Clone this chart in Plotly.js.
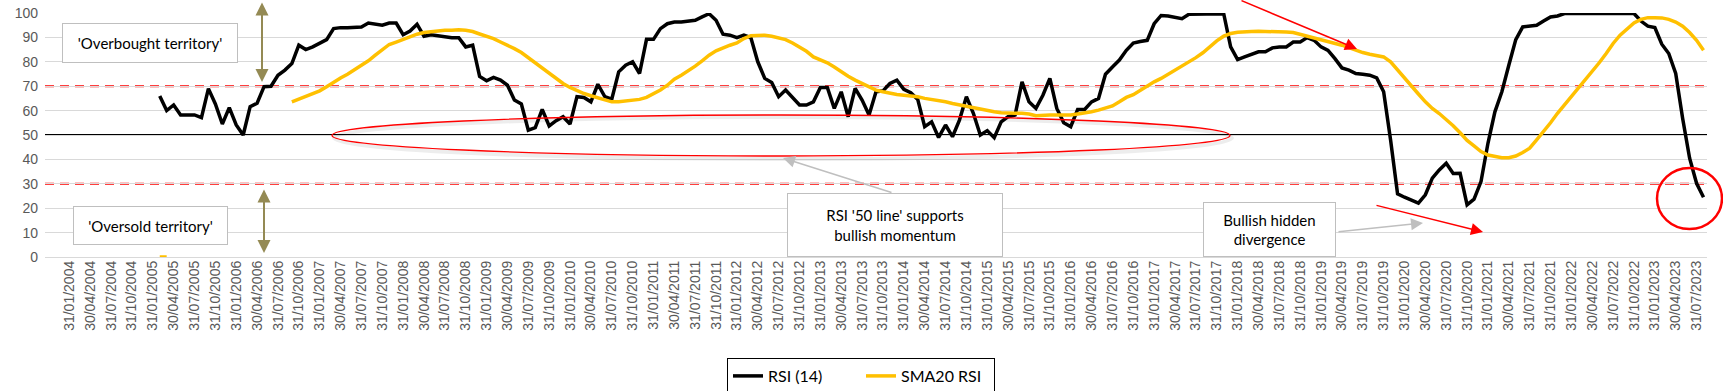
<!DOCTYPE html>
<html>
<head>
<meta charset="utf-8">
<script src="https://cdn.plot.ly/plotly-3.0.1.min.js"></script>
<style>
html,body{margin:0;padding:0;background:#fff;}
#chart{width:1723px;height:391px;}
</style>
</head>
<body>
<div id="chart"></div>
<script>
// ---------- DATA ----------
// monthly month-end categories, Oct 2003 .. Aug 2023
const firstYear = 2003, firstMonth = 10, monthCount = 239;
function buildMonths(y0, m0, n) {
  const out = [];
  for (let k = 0; k < n; k++) {
    const y = y0 + Math.floor((m0 - 1 + k) / 12);
    const m = (m0 - 1 + k) % 12 + 1;
    const d = new Date(Date.UTC(y, m, 0)).getUTCDate();
    out.push(String(d).padStart(2, '0') + '/' + String(m).padStart(2, '0') + '/' + y);
  }
  return out;
}
const months = buildMonths(firstYear, firstMonth, monthCount);

const tickLabels = [
  "31/01/2004","30/04/2004","31/07/2004","31/10/2004",
  "31/01/2005","30/04/2005","31/07/2005","31/10/2005",
  "31/01/2006","30/04/2006","31/07/2006","31/10/2006",
  "31/01/2007","30/04/2007","31/07/2007","31/10/2007",
  "31/01/2008","30/04/2008","31/07/2008","31/10/2008",
  "31/01/2009","30/04/2009","31/07/2009","31/10/2009",
  "31/01/2010","30/04/2010","31/07/2010","31/10/2010",
  "31/01/2011","30/04/2011","31/07/2011","31/10/2011",
  "31/01/2012","30/04/2012","31/07/2012","31/10/2012",
  "31/01/2013","30/04/2013","31/07/2013","31/10/2013",
  "31/01/2014","30/04/2014","31/07/2014","31/10/2014",
  "31/01/2015","30/04/2015","31/07/2015","31/10/2015",
  "31/01/2016","30/04/2016","31/07/2016","31/10/2016",
  "31/01/2017","30/04/2017","31/07/2017","31/10/2017",
  "31/01/2018","30/04/2018","31/07/2018","31/10/2018",
  "31/01/2019","30/04/2019","31/07/2019","31/10/2019",
  "31/01/2020","30/04/2020","31/07/2020","31/10/2020",
  "31/01/2021","30/04/2021","31/07/2021","31/10/2021",
  "31/01/2022","30/04/2022","31/07/2022","31/10/2022",
  "31/01/2023","30/04/2023","31/07/2023"
];

// RSI (14), from 28/02/2005
const rsiStart = "28/02/2005";
const rsiValues = [
  66, 60, 62.3, 58.2, 58.2, 58.2, 57.1, 69, 62.7, 54.5,
  61.2, 54.1, 50, 61.6, 63, 69.8, 70, 74.5, 76.6, 79.3,
  86.8, 85, 86.1, 87.5, 89.1, 93.6, 94, 94, 94.3, 94.3,
  95.9, 95.6, 95, 95.9, 95.9, 91.1, 92.6, 95.4, 90.5, 91.1,
  90.7, 90.2, 89.9, 89.9, 86.1, 86.8, 74, 72.2, 73.6, 72.5,
  70.4, 64.3, 62.7, 52, 53, 60.5, 53.7, 55.9, 57.5, 54.5,
  65.7, 65.4, 63.6, 70.8, 65.7, 64.7, 75.9, 78.6, 80, 75.2,
  89.2, 89.2, 93.6, 95.6, 96.3, 96.3, 96.6, 97, 98.4, 99.7,
  97, 91.3, 90.9, 89.9, 90.9, 89.9, 80, 73.2, 71.5, 65.7,
  68.4, 65.4, 62.3, 62.3, 63.6, 69.5, 69.5, 60.9, 67.7, 57.5,
  69.1, 64.3, 58.2, 67.7, 68.1, 71.1, 72.5, 68.7, 67.3, 64.6,
  53.4, 55.4, 49, 54.1, 49.3, 56.1, 65.7, 58.9, 50, 51.8,
  48.9, 55.4, 57.5, 58.2, 71.8, 63.6, 60.9, 66.3, 73.2, 60.9,
  55, 53.4, 60.5, 60.5, 63.6, 65, 74.9, 77.9, 80.7, 84.7,
  87.7, 88.3, 88.8, 95.6, 99, 98.8, 98.1, 97.7, 99.5, 99.5,
  99.5, 99.5, 99.5, 99.7, 86.1, 80.9, 82, 83.1, 84.1, 84.1,
  85.7, 86.1, 86.1, 88.1, 88.1, 89.9, 88.8, 86.1, 84.7, 81.3,
  77.5, 76.6, 75.2, 74.9, 74.5, 73.4, 67.7, 48, 25.9, 24.5,
  23.4, 22.1, 25.5, 32.3, 35.7, 38.4, 34.2, 34.3, 21.4, 23.7,
  30.9, 46.6, 59.5, 67.7, 78.6, 89.1, 94.3, 94.6, 95, 96.7,
  98.4, 98.8, 99.8, 99.8, 99.8, 99.8, 99.8, 99.8, 99.8, 99.8,
  99.8, 99.8, 99.8, 96.7, 94.6, 94, 87.2, 83.4, 75.2, 56.8,
  40.5, 30.2, 24.5
];

// SMA20 RSI: two stray zero points, then values from 30/09/2006
const smaZeroStart = "28/02/2005";
const smaZeroValues = [0, 0];
const smaStart = "30/09/2006";
const smaValues = [
  63.6, 64.7, 65.7, 66.8, 68.1, 69.8, 71.8, 73.4, 74.9, 76.6,
  78.6, 80.4, 82.7, 85, 87.1, 88.1, 89.2, 90.2, 91.3, 92,
  92.4, 92.6, 92.9, 92.9, 93.1, 92.9, 92.4, 91.4, 90.5, 89.5,
  88.1, 86.8, 85.4, 83.8, 81.7, 79.6, 77.5, 75.2, 73.2, 71.1,
  69.5, 68.1, 67, 66.1, 65.3, 64.6, 63.6, 63.6, 63.9, 64,
  64.6, 65.4, 66.8, 68.4, 70.4, 72.9, 74.5, 76.3, 78.2, 80.4,
  82.7, 84.5, 85.8, 86.8, 87.7, 89.5, 90.7, 90.9, 90.9, 90.5,
  89.9, 89.1, 87.7, 86, 84.3, 82, 80.7, 79.6, 77.9, 75.9,
  74.1, 72.5, 71.1, 69.5, 68.4, 67.7, 67, 66.6, 66.3, 66.1,
  65.7, 65, 64.6, 64.3, 63.6, 62.9, 62.3, 61.9, 61.3, 60.5,
  60.2, 59.5, 59.1, 58.9, 58.9, 58.9, 58.6, 57.9, 58.2, 58.2,
  58.2, 58.2, 58.2, 58.6, 58.9, 59.5, 60.2, 60.9, 61.9, 63.6,
  65.4, 66.5, 68.3, 70, 71.8, 73.2, 74.9, 76.6, 78.2, 79.6,
  81.7, 83.7, 86.1, 88.6, 90.5, 91.6, 92.1, 92.4, 92.4, 92.5,
  92.5, 92.5, 92.4, 92.2, 92, 91.3, 90.6, 89.8, 89.1, 88.3,
  87.5, 86.8, 85.8, 84.7, 83.8, 83.1, 82.7, 82, 80, 76.6,
  73.2, 69.8, 66.8, 63.6, 60.9, 58.8, 56.5, 53.8, 50.9, 47.8,
  45.5, 43.2, 41.8, 41.1, 40.7, 40.7, 41.4, 42.8, 44.6, 48,
  51.4, 55, 58.9, 62.3, 65.7, 69.1, 72.5, 75.9, 79.6, 83.4,
  87.5, 90.9, 93.6, 95.9, 97.4, 98.1, 98.1, 98, 97.4, 96.3,
  94.6, 92, 88.8, 84.7
];

const seriesNames = ["RSI (14)", "SMA20 RSI"];
const levelLines = { overbought: 70, middle: 50, oversold: 30 };

// ---------- build full-length series ----------
function place(target, start, vals) {
  const s = months.indexOf(start);
  vals.forEach((v, k) => { target[s + k] = v; });
}
const rsi = months.map(() => null);
place(rsi, rsiStart, rsiValues);
const sma = months.map(() => null);
place(sma, smaZeroStart, smaZeroValues);
place(sma, smaStart, smaValues);

// ---------- geometry helpers (plot area in px) ----------
const W = 1723, H = 391;
const PL = 45, PR = 1707, PT = 13, PB = 257;
const fx = px => (px - PL) / (PR - PL);
const fy = py => (PB - py) / (PB - PT);

const axisFont = { family: "Liberation Sans, Arial, sans-serif", size: 14, color: "#595959" };
const boxFont = { family: "Lato, Carlito, Calibri, sans-serif", size: 15, color: "#000000" };

function textBox(text, left, top, w, h) {
  return {
    xref: 'paper', yref: 'paper', x: fx(left), y: fy(top),
    xanchor: 'left', yanchor: 'top', text: text, showarrow: false,
    width: w, height: h, align: 'center', valign: 'middle',
    bgcolor: '#ffffff', bordercolor: '#BFBFBF', borderwidth: 1, borderpad: 0,
    font: boxFont
  };
}
function arrow(tipX, tipY, tailX, tailY, color, width, head, size, both) {
  const a = {
    xref: 'paper', yref: 'paper', x: fx(tipX), y: fy(tipY),
    ax: tailX - tipX, ay: tailY - tipY, axref: 'pixel', ayref: 'pixel',
    text: '', showarrow: true, arrowcolor: color, arrowwidth: width,
    arrowhead: head, arrowsize: size, standoff: 0, startstandoff: 0
  };
  if (both) { a.arrowside = 'end+start'; a.startarrowhead = head; a.startarrowsize = size; }
  return a;
}

const traces = [
  { x: months, y: rsi, type: 'scatter', mode: 'lines', name: seriesNames[0],
    line: { color: '#000000', width: 3.5 }, connectgaps: false, hoverinfo: 'skip' },
  { x: months, y: sma, type: 'scatter', mode: 'lines', name: seriesNames[1],
    line: { color: '#FFC000', width: 3.5 }, connectgaps: false, hoverinfo: 'skip' }
];

const layout = {
  width: W, height: H,
  margin: { l: PL, r: W - PR, t: PT, b: H - PB, pad: 0, autoexpand: false },
  paper_bgcolor: '#ffffff', plot_bgcolor: '#ffffff',
  showlegend: true,
  legend: {
    orientation: 'h', x: fx(861), xanchor: 'center', y: fy(358), yanchor: 'top',
    bordercolor: '#000000', borderwidth: 1, bgcolor: '#ffffff',
    font: { family: "Lato, Carlito, Calibri, sans-serif", size: 16, color: '#000000' },
    traceorder: 'normal', itemwidth: 30,
    entrywidth: 88, entrywidthmode: 'pixels'
  },
  xaxis: {
    type: 'category', categoryorder: 'array', categoryarray: months,
    range: [-0.5, months.length - 0.5], autorange: false,
    tickmode: 'array', tickvals: tickLabels, ticktext: tickLabels,
    tickangle: -90, tickfont: axisFont, showgrid: false, showline: false,
    zeroline: false, ticks: '', automargin: false, fixedrange: true
  },
  yaxis: {
    range: [0, 100], autorange: false, tick0: 0, dtick: 10,
    tickfont: axisFont, gridcolor: '#D9D9D9', gridwidth: 1,
    zeroline: true, zerolinecolor: '#D9D9D9', zerolinewidth: 1,
    showline: false, ticks: '', automargin: false, fixedrange: true,
    ticklabelstandoff: 6
  },
  shapes: [
    { type: 'line', xref: 'paper', x0: 0, x1: 1, yref: 'y', y0: levelLines.overbought, y1: levelLines.overbought,
      line: { color: '#FF0000', width: 2, dash: '9px,6px' }, layer: 'below' },
    { type: 'line', xref: 'paper', x0: 0, x1: 1, yref: 'y', y0: levelLines.oversold, y1: levelLines.oversold,
      line: { color: '#FF0000', width: 2, dash: '9px,6px' }, layer: 'below' },
    { type: 'line', xref: 'paper', x0: 0, x1: 1, yref: 'y', y0: levelLines.middle, y1: levelLines.middle,
      line: { color: '#000000', width: 2 }, layer: 'below' },
    // soft shadow of the ellipse
    { type: 'circle', xref: 'paper', yref: 'paper', x0: fx(334), x1: fx(1232), y0: fy(159), y1: fy(117),
      line: { color: 'rgba(0,0,0,0.07)', width: 4 }, layer: 'above' },
    // red ellipse around the 50 line
    { type: 'circle', xref: 'paper', yref: 'paper', x0: fx(332), x1: fx(1230), y0: fy(156), y1: fy(115),
      line: { color: '#FF0000', width: 1.3 }, layer: 'above' },
    // red circle at the end
    { type: 'circle', xref: 'paper', yref: 'paper', x0: fx(1657), x1: fx(1722), y0: fy(229), y1: fy(168),
      line: { color: '#FF0000', width: 2.5 }, layer: 'above' }
  ],
  annotations: [
    textBox("'Overbought territory'", 62, 23, 174, 38),
    textBox("'Oversold territory'", 73, 206, 153, 37),
    textBox("RSI '50 line' supports<br>bullish momentum", 787, 193, 214, 62),
    textBox("Bullish hidden<br>divergence", 1203, 202, 131, 53),
    arrow(783, 158, 893, 193, '#BFBFBF', 1.5, 2, 1.6, false),
    arrow(1423, 223, 1337, 232, '#BFBFBF', 1.5, 2, 1.6, false),
    arrow(1357, 49, 1240, 0, '#FF0000', 1.5, 2, 1.6, false),
    arrow(1483, 232, 1375, 205, '#FF0000', 1.5, 2, 1.6, false),
    arrow(262, 82, 262, 1, '#948A54', 2, 2, 1.3, true),
    arrow(264, 253, 264, 188, '#948A54', 2, 2, 1.3, true)
  ]
};

Plotly.newPlot('chart', traces, layout, { displayModeBar: false, staticPlot: true });
</script>
</body>
</html>
